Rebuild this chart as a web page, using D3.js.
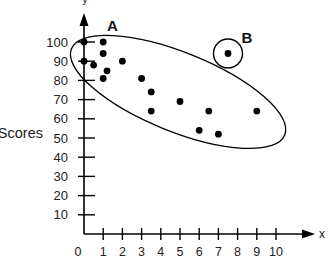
<!DOCTYPE html>
<html><head><meta charset="utf-8">
<script src="https://cdn.jsdelivr.net/npm/d3@7"></script>
<style>html,body{margin:0;padding:0;background:#fff;overflow:hidden}</style>
</head><body>
<svg id="c" width="330" height="268"></svg>
<script>
const hours = [0, 1, 1, 0, 0.5, 1.2, 1, 2, 3, 3.5, 3.5, 5, 6.5, 9, 6, 7];
const scores = [100, 100, 94, 90, 88, 85, 81, 90, 81, 74, 64, 69, 64, 64, 54, 52];
const outlier = [7.5, 94];
const xTicks = [1,2,3,4,5,6,7,8,9,10];
const yTicks = [10,20,30,40,50,60,70,80,90,100];
const labelA = {x: 1.2, y: 105.5, text: "A"};
const labelB = {x: 8.2, y: 99.5, text: "B"};
const clusterCenter = [4.9, 74];

const svg = d3.select("#c");
const x = d3.scaleLinear().domain([0,10]).range([84,276]);
const y = d3.scaleLinear().domain([0,100]).range([234,42]);
const font = "'Liberation Sans', Arial, sans-serif";

// axes
svg.append("line").attr("x1",x(0)).attr("x2",303).attr("y1",y(0)).attr("y2",y(0)).attr("stroke","#000").attr("stroke-width",1.6);
svg.append("path").attr("d",`M302,${y(0)-4.5}L315,${y(0)}L302,${y(0)+4.5}Z`).attr("fill","#000");
svg.append("line").attr("x1",x(0)).attr("x2",x(0)).attr("y1",y(0)).attr("y2",24).attr("stroke","#000").attr("stroke-width",1.6);
svg.append("path").attr("d",`M${x(0)-4.5},26L${x(0)},13L${x(0)+4.5},26Z`).attr("fill","#000");

// ticks
svg.selectAll(".xt").data(xTicks).enter().append("line")
  .attr("x1",d=>x(d)).attr("x2",d=>x(d)).attr("y1",y(0)-6).attr("y2",y(0)+6)
  .attr("stroke","#000").attr("stroke-width",1.4);
svg.selectAll(".yt").data(yTicks).enter().append("line")
  .attr("x1",x(0)-6).attr("x2",x(0)+11).attr("y1",d=>y(d)).attr("y2",d=>y(d))
  .attr("stroke","#000").attr("stroke-width",1.4);

svg.selectAll(".xl").data(xTicks).enter().append("text")
  .attr("x",d=>x(d)).attr("y",256).attr("text-anchor","middle")
  .attr("font-family",font).attr("font-size",12.5).attr("fill","#222").text(d=>d);
svg.append("text").attr("x",x(0)-6).attr("y",256).attr("text-anchor","middle")
  .attr("font-family",font).attr("font-size",12.5).attr("fill","#222").text("0");
svg.selectAll(".yl").data(yTicks).enter().append("text")
  .attr("x",68).attr("y",d=>y(d)+4.6).attr("text-anchor","end")
  .attr("font-family",font).attr("font-size",13).attr("fill","#222").text(d=>d);

svg.append("text").attr("x",43).attr("y",138).attr("text-anchor","end")
  .attr("font-family",font).attr("font-size",14.5).attr("fill","#222").text("Scores");
svg.append("text").attr("x",322).attr("y",238).attr("text-anchor","middle")
  .attr("font-family",font).attr("font-size",12).attr("fill","#222").text("x");
svg.append("text").attr("x",x(0)+1).attr("y",3).attr("text-anchor","middle")
  .attr("font-family",font).attr("font-size",11).attr("fill","#222").text("y");

// cluster ellipse
svg.append("ellipse")
  .attr("cx",0).attr("cy",0).attr("rx",115).attr("ry",39.5)
  .attr("transform",`translate(${x(clusterCenter[0])},${y(clusterCenter[1])}) rotate(22)`)
  .attr("fill","none").attr("stroke","#000").attr("stroke-width",1.3);

// points
svg.selectAll(".p").data(hours.map((h,i)=>[h,scores[i]])).enter().append("circle")
  .attr("cx",d=>x(d[0])).attr("cy",d=>y(d[1])).attr("r",3.4).attr("fill","#000");
svg.append("circle").attr("cx",x(outlier[0])).attr("cy",y(outlier[1])).attr("r",3.4).attr("fill","#000");
svg.append("circle").attr("cx",x(outlier[0])).attr("cy",y(outlier[1])).attr("r",14.5)
  .attr("fill","none").attr("stroke","#000").attr("stroke-width",1.4);

// labels
[labelA,labelB].forEach(l=>{
  svg.append("text").attr("x",x(l.x)).attr("y",y(l.y)).attr("font-family",font)
    .attr("font-weight","bold").attr("font-size",15).attr("fill","#111").text(l.text);
});
</script>
</body></html>
